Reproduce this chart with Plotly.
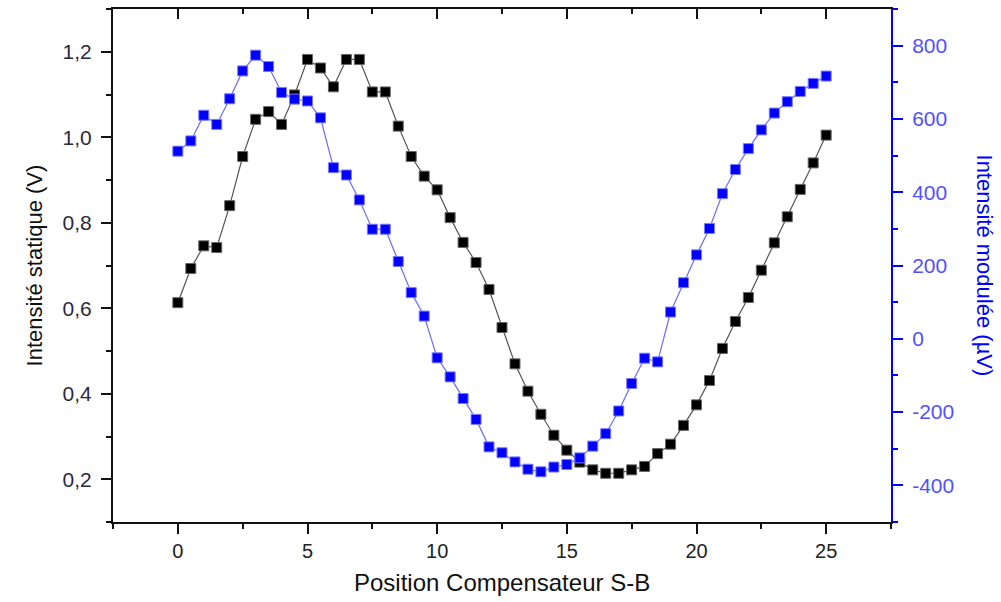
import plotly.graph_objects as go

position = [i * 0.5 for i in range(51)]

intensite_statique = [
    0.613, 0.693, 0.746, 0.742, 0.840, 0.955, 1.042, 1.060, 1.030, 1.099,
    1.182, 1.162, 1.118, 1.182, 1.182, 1.106, 1.106, 1.026, 0.955, 0.909,
    0.877, 0.812, 0.754, 0.707, 0.644, 0.555, 0.470, 0.406, 0.352, 0.303,
    0.268, 0.240, 0.222, 0.214, 0.214, 0.222, 0.230, 0.260, 0.282, 0.326,
    0.374, 0.431, 0.506, 0.569, 0.625, 0.689, 0.753, 0.814, 0.878, 0.940,
    1.005,
]

intensite_modulee = [
    512, 540, 610, 585, 655, 731, 774, 743, 672, 654,
    649, 603, 467, 447, 379, 299, 299, 211, 126, 62,
    -52, -104, -163, -220, -295, -311, -336, -356, -363, -350,
    -343, -325, -293, -259, -197, -122, -53, -63, 73, 153,
    229, 301, 396, 462, 519, 570, 616, 647, 675, 697,
    717,
]

x_ticks = [0, 5, 10, 15, 20, 25]
left_ticks = [0.2, 0.4, 0.6, 0.8, 1.0, 1.2]
left_labels = ["0,2", "0,4", "0,6", "0,8", "1,0", "1,2"]
right_ticks = [-400, -200, 0, 200, 400, 600, 800]
right_labels = ["-400", "-200", "0", "200", "400", "600", "800"]

FONT = "Liberation Sans, Arial, sans-serif"
BLUE = "#0000ff"

fig = go.Figure()

fig.add_trace(go.Scatter(
    x=position, y=intensite_statique, mode="lines+markers",
    line=dict(color="#555555", width=1.2),
    marker=dict(symbol="square", size=10, color="#000000",
                line=dict(color="#666666", width=1)),
    xaxis="x", yaxis="y", showlegend=False,
))

fig.add_trace(go.Scatter(
    x=position, y=intensite_modulee, mode="lines+markers",
    line=dict(color="#6b6bff", width=1.2),
    marker=dict(symbol="square", size=10, color=BLUE,
                line=dict(color="#7a7aff", width=1)),
    xaxis="x", yaxis="y2", showlegend=False,
))

# invisible trace so the top frame axis is drawn
fig.add_trace(go.Scatter(
    x=[0], y=[0.5], mode="markers", marker=dict(opacity=0),
    xaxis="x2", yaxis="y", showlegend=False, hoverinfo="skip",
))

tick_common = dict(showgrid=False, zeroline=False, automargin=False)

fig.update_layout(
    width=1001, height=602,
    margin=dict(l=113, r=110, t=9, b=80, autoexpand=False),
    paper_bgcolor="white", plot_bgcolor="white",
    font=dict(family=FONT, size=16, color="#222233"),
    xaxis=dict(
        range=[-2.5, 27.5], tickvals=x_ticks,
        ticks="outside", ticklen=10, tickwidth=2, tickcolor="#111111",
        minor=dict(dtick=2.5, tick0=0, ticks="outside", ticklen=5,
                   tickwidth=2, tickcolor="#111111"),
        showline=True, linecolor="#111111", linewidth=2,
        tickfont=dict(size=20, color="#222222"),
        **tick_common,
    ),
    xaxis2=dict(
        overlaying="x", side="top", anchor="y",
        range=[-2.5, 27.5], tickvals=x_ticks, showticklabels=False,
        ticks="inside", ticklen=10, tickwidth=2, tickcolor="#111111",
        minor=dict(dtick=2.5, tick0=0, ticks="inside", ticklen=5,
                   tickwidth=2, tickcolor="#111111"),
        showline=True, linecolor="#111111", linewidth=2,
        **tick_common,
    ),
    yaxis=dict(
        range=[0.1, 1.3], tickvals=left_ticks, ticktext=left_labels,
        ticks="outside", ticklen=10, tickwidth=2, tickcolor="#111111",
        minor=dict(dtick=0.1, tick0=0, ticks="outside", ticklen=5,
                   tickwidth=2, tickcolor="#111111"),
        showline=True, linecolor="#111111", linewidth=2,
        tickfont=dict(size=21, color="#2a2a3a"),
        ticklabelstandoff=5,
        **tick_common,
    ),
    yaxis2=dict(
        overlaying="y", side="right", anchor="x",
        range=[-500, 900], tickvals=right_ticks, ticktext=right_labels,
        ticks="outside", ticklen=10, tickwidth=2, tickcolor=BLUE,
        minor=dict(dtick=100, tick0=0, ticks="outside", ticklen=5,
                   tickwidth=2, tickcolor=BLUE),
        showline=True, linecolor=BLUE, linewidth=2,
        tickfont=dict(size=21, color="#5050ff"),
        ticklabelstandoff=5,
        **tick_common,
    ),
    annotations=[
        dict(text="Intensité statique (V)", textangle=-90,
             xref="paper", yref="paper", x=-0.1003, y=0.5,
             xanchor="center", yanchor="middle", showarrow=False,
             font=dict(size=22, color="#111111", family=FONT)),
        dict(text="Intensité modulée (µV)", textangle=90,
             xref="paper", yref="paper", x=1.1208, y=0.5,
             xanchor="center", yanchor="middle", showarrow=False,
             font=dict(size=22, color=BLUE, family=FONT)),
        dict(text="Position Compensateur S-B",
             xref="paper", yref="paper", x=0.5, y=-0.117,
             xanchor="center", yanchor="middle", showarrow=False,
             font=dict(size=24, color="#111111", family=FONT)),
    ],
)

fig.write_html(
    "out.html",
    config={"displayModeBar": False},
    post_script="document.body.style.margin='0';document.body.style.padding='0';",
)
